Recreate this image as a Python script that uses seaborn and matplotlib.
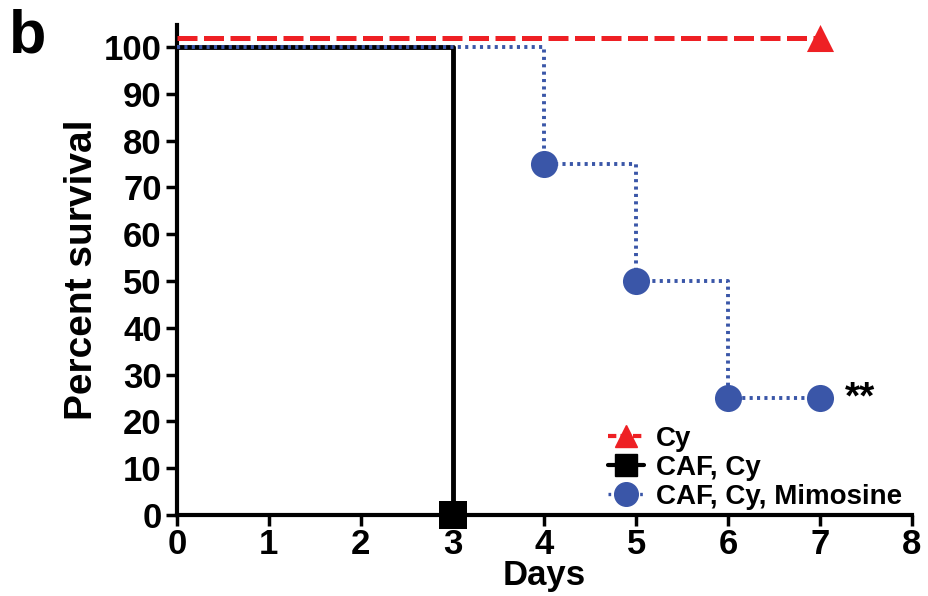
import pandas as pd
import seaborn as sns
import matplotlib.pyplot as plt
from matplotlib import font_manager

# survival data (percent)
days_cy = [0, 7]
surv_cy = [100, 100]
days_caf = [0, 3]
surv_caf = [100, 0]
days_mim = [0, 4, 5, 6, 7]
surv_mim = [100, 75, 50, 25, 25]
labels = ['Cy', 'CAF, Cy', 'CAF, Cy, Mimosine']
x_ticks = [0, 1, 2, 3, 4, 5, 6, 7, 8]
y_ticks = [0, 10, 20, 30, 40, 50, 60, 70, 80, 90, 100]

sns.set_style('ticks')
names = {f.name for f in font_manager.fontManager.ttflist}
fam = 'Liberation Sans Narrow' if 'Liberation Sans Narrow' in names else 'Liberation Sans'
plt.rcParams['font.family'] = [fam, 'DejaVu Sans']
plt.rcParams['font.weight'] = 'bold'
for k in ['text.color', 'axes.labelcolor', 'xtick.color', 'ytick.color', 'axes.edgecolor']:
    plt.rcParams[k] = 'black'

red, black, blue = '#ee2024', '#000000', '#3a56a8'

fig = plt.figure(figsize=(9.29, 5.96), dpi=100)
ax = fig.add_axes([0.1905, 0.1359, 0.7912, 0.8221])

# Cy drawn slightly offset above 100 so it does not hide the others
df_cy = pd.DataFrame({'day': days_cy, 'surv': [v + 2 for v in surv_cy]})
df_caf = pd.DataFrame({'day': days_caf, 'surv': surv_caf})
df_mim = pd.DataFrame({'day': days_mim, 'surv': surv_mim})

sns.lineplot(data=df_cy, x='day', y='surv', ax=ax, color=red, lw=3.6,
             drawstyle='steps-post', clip_on=False, zorder=3)
ax.lines[-1].set_dashes([4, 1.3])
sns.lineplot(data=df_caf, x='day', y='surv', ax=ax, color=black, lw=3.5,
             drawstyle='steps-post', clip_on=False, zorder=3)
sns.lineplot(data=df_mim, x='day', y='surv', ax=ax, color=blue, lw=2.8,
             drawstyle='steps-post', clip_on=False, zorder=4)
ax.lines[-1].set_dashes([0.8, 1.1])

sns.scatterplot(data=df_cy.iloc[[-1]], x='day', y='surv', ax=ax, color=red,
                marker='^', s=380, linewidth=0, clip_on=False, zorder=5)
sns.scatterplot(data=df_caf.iloc[[-1]], x='day', y='surv', ax=ax, color=black,
                marker='s', s=380, linewidth=0, clip_on=False, zorder=5)
sns.scatterplot(data=df_mim.iloc[1:], x='day', y='surv', ax=ax, color=blue,
                marker='o', s=380, linewidth=0, clip_on=False, zorder=5)

ax.text(7.27, 25, '**', fontsize=28, fontweight='bold', va='center', ha='left')

ax.set_xlim(0, 8)
ax.set_ylim(0, 104.7)
ax.set_xticks(x_ticks)
ax.set_yticks(y_ticks)
ax.tick_params(axis='both', direction='out', length=8, width=2.5, labelsize=25, pad=3)
ax.tick_params(axis='x', pad=1)
for lab in ax.get_xticklabels() + ax.get_yticklabels():
    lab.set_fontweight('bold')
for sp in ['left', 'bottom']:
    ax.spines[sp].set_linewidth(3)
sns.despine(ax=ax)

ax.set_xlabel('Days', fontsize=25, fontweight='bold', labelpad=-1)
ax.set_ylabel('Percent survival', fontsize=28, fontweight='bold', labelpad=3)

handles = [
    plt.Line2D([], [], color=red, lw=3, ls=(0, (2, 1)), marker='^', ms=16),
    plt.Line2D([], [], color=black, lw=3, marker='s', ms=16),
    plt.Line2D([], [], color=blue, lw=2.4, ls=(0, (0.8, 1.1)), marker='o', ms=17),
]
ax.legend(handles, labels, loc='lower right', bbox_to_anchor=(1.02, -0.04),
          frameon=False, prop={'weight': 'bold', 'size': 20},
          handlelength=1.3, handletextpad=0.4, labelspacing=0.1)

fig.text(0.01, 0.985, 'b', fontsize=44, fontweight='bold', va='top', ha='left')

fig.savefig('out.png', dpi=100)
plt.close(fig)
